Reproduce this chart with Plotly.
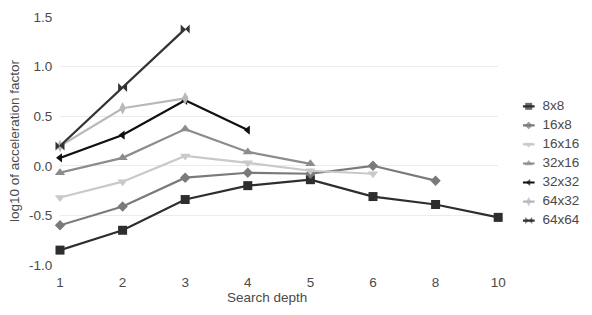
import plotly.graph_objects as go

depth_labels = ["1", "2", "3", "4", "5", "6", "8", "10"]

s_8x8 = [-0.85, -0.65, -0.34, -0.20, -0.14, -0.31, -0.39, -0.52]
s_16x8 = [-0.60, -0.41, -0.12, -0.07, -0.08, 0.00, -0.15, None]
s_16x16 = [-0.32, -0.16, 0.10, 0.03, -0.05, -0.08, None, None]
s_32x16 = [-0.07, 0.08, 0.37, 0.14, 0.02, None, None, None]
s_32x32 = [0.08, 0.31, 0.66, 0.36, None, None, None, None]
s_64x32 = [0.20, 0.58, 0.68, None, None, None, None, None]
s_64x64 = [0.20, 0.79, 1.38, None, None, None, None, None]

names = ["8x8", "16x8", "16x16", "32x16", "32x32", "64x32", "64x64"]
series = [s_8x8, s_16x8, s_16x16, s_32x16, s_32x32, s_64x32, s_64x64]
colors = ["#2e2e2e", "#7a7a7a", "#c9c9c9", "#8c8c8c", "#111111", "#b8b8b8", "#333333"]
symbols = ["square", "diamond", "triangle-down", "triangle-up", "triangle-left", "diamond-tall", "bowtie"]
sizes = [9, 8, 9, 9, 8, 9, 9]

FONT = "Liberation Sans, Arial, sans-serif"
TXT = "#4a4a4a"
FS = 13.5

fig = go.Figure()
xpos = list(range(len(depth_labels)))
for name, vals, c, sym, sz in zip(names, series, colors, symbols, sizes):
    xs = [x for x, v in zip(xpos, vals) if v is not None]
    ys = [v for v in vals if v is not None]
    fig.add_trace(go.Scatter(
        x=xs, y=ys, mode="lines+markers", name=name,
        line=dict(color=c, width=2.2),
        marker=dict(symbol=sym, size=sz, color=c, line=dict(width=0)),
        cliponaxis=False, showlegend=False, hoverinfo="skip"))

# custom compact legend on a helper axis
for i, (name, c, sym, sz) in enumerate(zip(names, colors, symbols, sizes)):
    fig.add_trace(go.Scatter(
        x=[0, 0.5, 1], y=[-i, -i, -i], mode="lines+markers",
        line=dict(color=c, width=2.2),
        marker=dict(symbol=sym, size=[0, sz - 2, 0], color=c, line=dict(width=0)),
        xaxis="x2", yaxis="y2", showlegend=False, cliponaxis=False, hoverinfo="skip"))
    fig.add_trace(go.Scatter(
        x=[1.67], y=[-i], mode="text", text=[name], textposition="middle right",
        textfont=dict(family=FONT, size=FS, color=TXT),
        xaxis="x2", yaxis="y2", showlegend=False, cliponaxis=False, hoverinfo="skip"))

fig.update_layout(
    width=592, height=315,
    margin=dict(l=60, r=10, t=15, b=50),
    paper_bgcolor="white", plot_bgcolor="white",
    font=dict(family=FONT, size=FS, color=TXT),
    xaxis=dict(
        domain=[0, 445 / 522], range=[0, 7],
        tickvals=xpos, ticktext=depth_labels,
        showgrid=False, zeroline=False,
        ticks="outside", ticklen=5, tickcolor="rgba(0,0,0,0)",
        tickfont=dict(size=FS, color=TXT),
    ),
    yaxis=dict(
        range=[-1.0, 1.5], tickvals=[-1.0, -0.5, 0.0, 0.5, 1.0, 1.5],
        ticktext=["-1.0", "-0.5", "0.0", "0.5", "1.0", "1.5"],
        showgrid=True, gridcolor="#ececec", gridwidth=1,
        zeroline=True, zerolinecolor="#ececec", zerolinewidth=1,
        ticks="outside", ticklen=4, tickcolor="rgba(0,0,0,0)",
        tickfont=dict(size=FS, color=TXT),
        title=dict(text="log10 of acceleration factor", font=dict(size=FS, color=TXT), standoff=6),
    ),
    xaxis2=dict(domain=[(530 - 60) / 522, (554 - 60) / 522], range=[0, 2],
                visible=False, anchor="y2"),
    yaxis2=dict(domain=[0, 1], range=[-8.33, 4.69], visible=False, anchor="x2"),
    annotations=[dict(text="Search depth", xref="paper", yref="paper",
                      x=(270 - 60) / 522, y=-33 / 250, xanchor="center", yanchor="middle",
                      showarrow=False, font=dict(size=FS, color=TXT))],
)

fig.write_html("out.html")
